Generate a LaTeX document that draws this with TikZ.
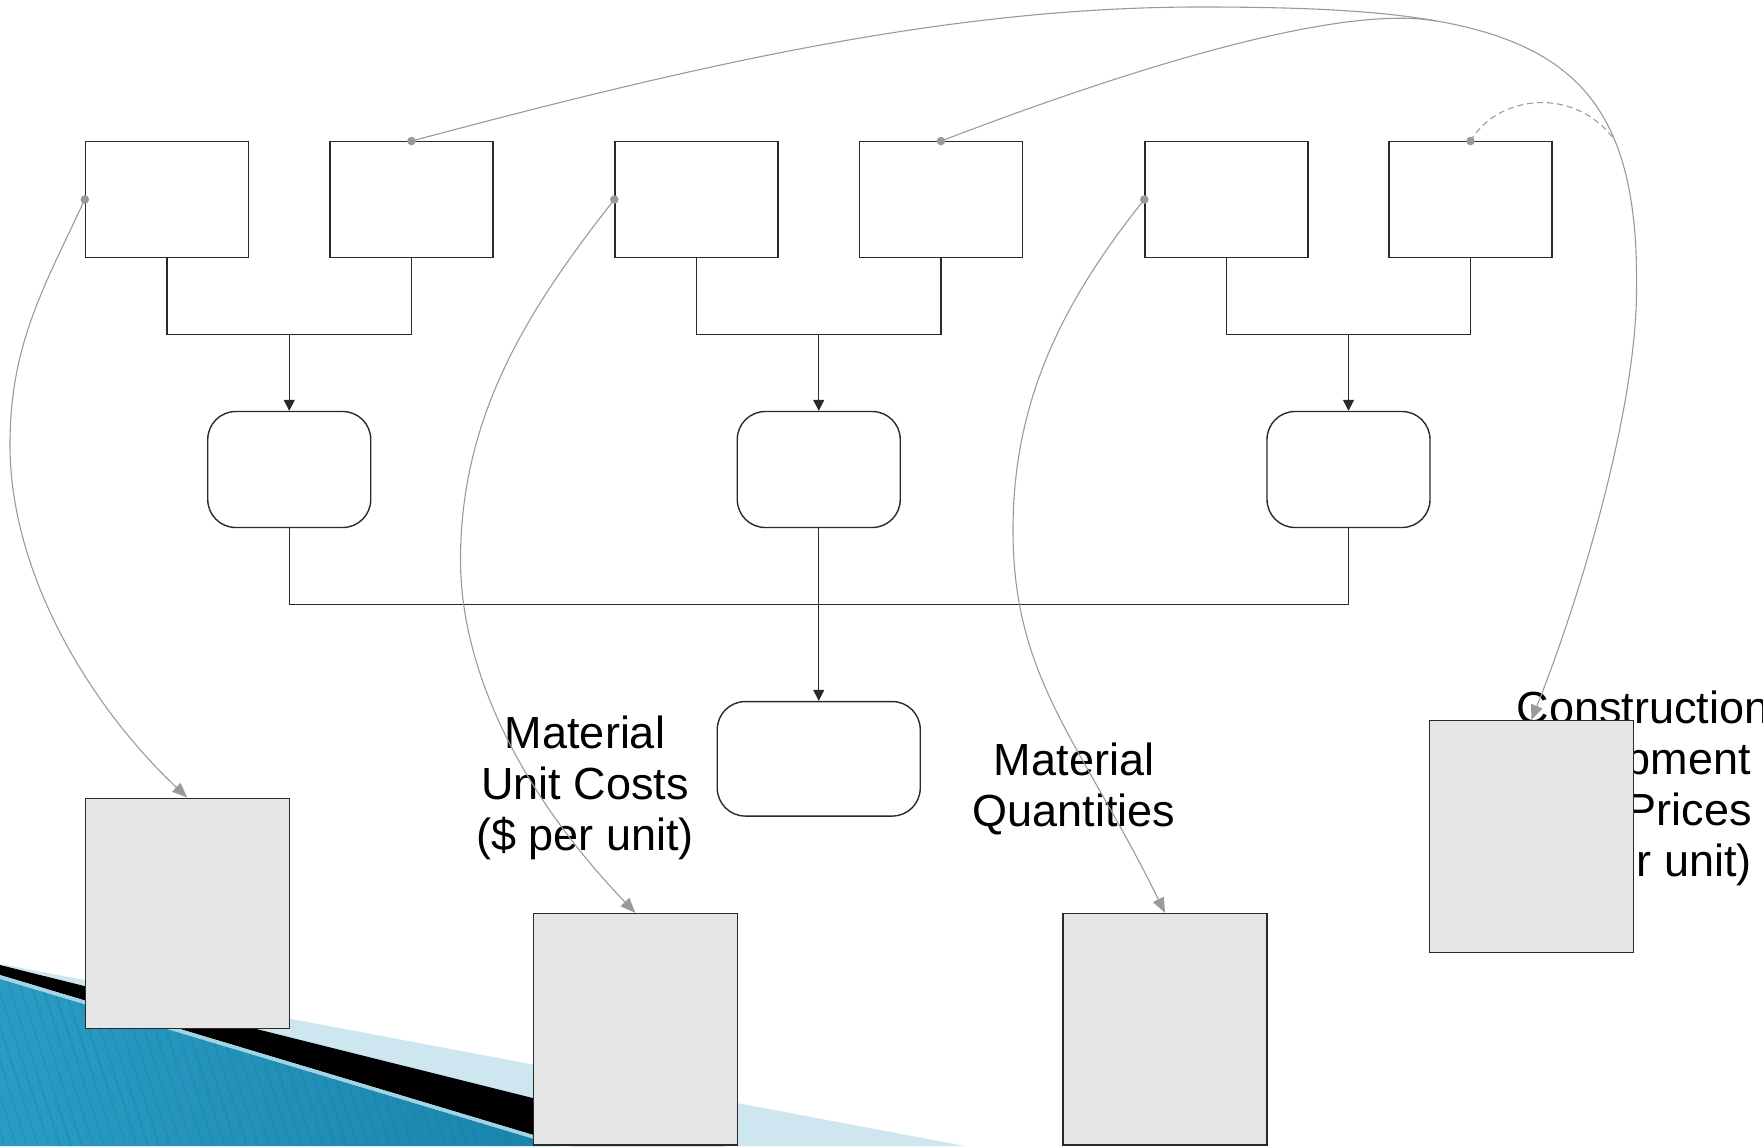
\documentclass[tikz,border=0pt]{standalone}
\usepackage{fontspec}
\setmainfont{Liberation Sans}
\usetikzlibrary{arrows.meta}
\definecolor{linkgray}{HTML}{9A9A9A}
\definecolor{storefill}{HTML}{E5E5E5}
\definecolor{edgegray}{HTML}{2A2A2A}
\definecolor{hatchblue}{HTML}{CDE6F0}
\definecolor{stripeblue}{HTML}{A3D4E6}
\definecolor{deepblue}{HTML}{2A9CC4}
\definecolor{paleblue}{HTML}{5CBEDC}
\definecolor{darkblue}{HTML}{1A84AB}
\definecolor{grainblue}{HTML}{167A9F}
\begin{document}
\begin{tikzpicture}[x=1pt,y=-1pt,
  inbox/.style={draw=edgegray, line width=1.4pt, minimum width=163pt, minimum height=115.5pt, inner sep=0pt},
  calcbox/.style={inbox, rounded corners=28pt, minimum height=116pt},
  finalbox/.style={calcbox, minimum width=203pt, minimum height=114.5pt},
  storebox/.style={draw=edgegray, fill=storefill, line width=1.4pt, minimum width=204pt, minimum height=231.5pt, inner sep=0pt},
  caption/.style={align=center, font=\fontsize{45}{51}\selectfont, inner sep=0pt},
  treeline/.style={draw=edgegray, line width=1.4pt},
  treearrow/.style={treeline, -{Triangle[length=11pt,width=11pt]}},
  linkline/.style={draw=linkgray, line width=1.1pt},
  linkarrow/.style={linkline, -{Triangle[length=15pt,width=12pt]}},
  startdot/.style={fill=linkgray}
]
\useasboundingbox (0,0) rectangle (1763,1146);
\clip (0,0) rectangle (1763,1146);

% corner decoration
\fill[hatchblue] (0,964) -- (965,1146) -- (0,1146) -- cycle;
\fill[black] (0,965) -- (725,1146) -- (570,1146) -- (0,975) -- cycle;
\fill[stripeblue] (0,975) -- (570,1146) -- (557,1146) -- (0,979) -- cycle;
\shade[left color=deepblue, middle color=paleblue, right color=darkblue]
  (0,979) -- (557,1146) -- (0,1146) -- cycle;
\begin{scope}
  \clip (0,979) -- (557,1146) -- (0,1146) -- cycle;
  \foreach \s in {-120,-109,...,600}
    \draw[grainblue, opacity=0.3, line width=1.6pt] (\s,960) -- ++(62,195);
\end{scope}

% data labels (partly hidden by the stores)
\node[caption] (tcost) at (585,788) {Material\\Unit Costs\\(\$ per unit)};
\node[caption] (tqty) at (1074,788.5) {Material\\Quantities};
\node[caption] (tequip) at (1643,788) {Construction\\Equipment\\Unit Prices\\(\$ per unit)};

% input boxes
\node[inbox] (b1) at (167,199.5) {};
\node[inbox] (b2) at (411.5,199.5) {};
\node[inbox] (b3) at (696.5,199.5) {};
\node[inbox] (b4) at (941,199.5) {};
\node[inbox] (b5) at (1226.5,199.5) {};
\node[inbox] (b6) at (1470.5,199.5) {};

% calculation boxes
\node[calcbox] (r1) at (289.25,469.5) {};
\node[calcbox] (r2) at (818.75,469.5) {};
\node[calcbox] (r3) at (1348.5,469.5) {};
\node[finalbox] (fin) at (818.75,758.8) {};

% stores
\node[storebox, minimum height=230pt] (sA) at (187.25,913.25) {};
\node[storebox] (sB) at (635.3,1029.3) {};
\node[storebox] (sC) at (1165,1029.3) {};
\node[storebox] (sD) at (1531.3,836.5) {};

% tree connectors
\coordinate (p1) at (289.25,334.3);
\coordinate (p2) at (818.75,334.3);
\coordinate (p3) at (1348.5,334.3);
\coordinate (bus) at (818.75,604.7);
\draw[treeline] (b1.south) |- (p1) -| (b2.south);
\draw[treeline] (b3.south) |- (p2) -| (b4.south);
\draw[treeline] (b5.south) |- (p3) -| (b6.south);
\draw[treearrow] (p1) -- (r1.north);
\draw[treearrow] (p2) -- (r2.north);
\draw[treearrow] (p3) -- (r3.north);
\draw[treeline] (r1.south) |- (bus) -| (r3.south);
\draw[treeline] (r2.south) -- (bus);
\draw[treearrow] (bus) -- (fin.north);

% links from inputs to stores
\draw[linkarrow] (b1.west) .. controls (43,289) and (10,345) .. (10,445)
  .. controls (10,575) and (91,707) .. (sA.north);
\draw[linkarrow] (b3.west) .. controls (534,302) and (460.5,410) .. (460.5,560)
  .. controls (460.5,660) and (511,783) .. (sB.north);
\draw[linkarrow] (b5.west) .. controls (1063,301) and (1013,400) .. (1013,530)
  .. controls (1013,680) and (1081,742) .. (sC.north);
\draw[linkarrow] (b2.north) .. controls (701,63.7) and (950,7) .. (1200,7)
  .. controls (1520,7) and (1640,40) .. (1636.5,290)
  .. controls (1636.5,400) and (1586.8,580.5) .. (sD.north);
\coordinate (j1) at (1436,21);
\coordinate (j2) at (1614.8,140.4);
\draw[linkline] (b4.north) .. controls (1127,69.7) and (1337.5,3.8) .. (j1);
\draw[linkline, dash pattern=on 6pt off 4pt] (b6.north) .. controls (1497,95) and (1575,85) .. (j2);

% link start points
\fill[startdot] (b1.west) circle (4.3pt);
\fill[startdot] (b3.west) circle (4.3pt);
\fill[startdot] (b5.west) circle (4.3pt);
\fill[startdot] (b2.north) circle (4.3pt);
\fill[startdot] (b4.north) circle (4.3pt);
\fill[startdot] (b6.north) circle (4.3pt);
\end{tikzpicture}
\end{document}
